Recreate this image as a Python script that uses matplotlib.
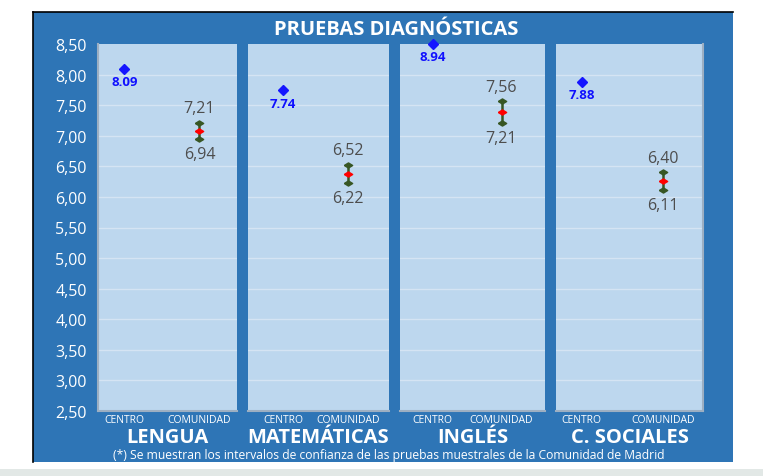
import matplotlib
matplotlib.use("Agg")
import matplotlib.pyplot as plt
from matplotlib.patches import Rectangle
import numpy as np

plt.rcParams['font.family'] = ['Open Sans', 'DejaVu Sans']

# ---- data ----
subjects = ["LENGUA", "MATEMÁTICAS", "INGLÉS", "C. SOCIALES"]
categories = ["CENTRO", "COMUNIDAD"]
centro = [8.09, 7.74, 8.94, 7.88]
centro_labels = ["8.09", "7.74", "8.94", "7.88"]
com_low = [6.94, 6.22, 7.21, 6.11]
com_high = [7.21, 6.52, 7.56, 6.40]
yticks = [2.5, 3.0, 3.5, 4.0, 4.5, 5.0, 5.5, 6.0, 6.5, 7.0, 7.5, 8.0, 8.5]
ytick_labels = ["2,50", "3,00", "3,50", "4,00", "4,50", "5,00", "5,50",
                "6,00", "6,50", "7,00", "7,50", "8,00", "8,50"]
title = "PRUEBAS DIAGNÓSTICAS"
footnote = "(*) Se muestran los intervalos de confianza de las pruebas muestrales de la Comunidad de Madrid"

# ---- layout (pixels) ----
W, H = 763, 477
FRAME_BLUE = "#2E75B6"
PANEL_BG = "#BDD7EE"
GRID = "#D5E4F3"
panels_px = [(98, 237), (248, 389), (400, 545), (556, 703)]
panel_top, panel_bot = 45, 412
# fraction of panel width where CENTRO / COMUNIDAD sit
cat_pos = [(0.19, 0.73), (0.25, 0.71), (0.225, 0.70), (0.175, 0.73)]

fig = plt.figure(figsize=(W / 100, H / 100), dpi=100)
fig.patch.set_facecolor("white")

def fx(x):
    return x / W

def fy(y):
    return 1 - y / H

# background axes for frame drawing
bg = fig.add_axes([0, 0, 1, 1], zorder=-10)
bg.set_xlim(0, W)
bg.set_ylim(H, 0)
bg.axis('off')
bg.add_patch(Rectangle((33, 13), 700, 450, facecolor=FRAME_BLUE, edgecolor="none"))
bg.plot([33, 733], [13, 13], color="black", lw=1.2)
bg.plot([33, 33], [13, 463], color="black", lw=1.2)
bg.add_patch(Rectangle((0, 470), W, 7, facecolor="#E2E8E6", edgecolor="none"))

diamond_wide = [(-1, 0), (0, 0.62), (1, 0), (0, -0.62), (-1, 0)]

ymin, ymax = 2.5, 8.5
for i, (x0, x1) in enumerate(panels_px):
    ax = fig.add_axes([fx(x0), fy(panel_bot), fx(x1) - fx(x0), fy(panel_top) - fy(panel_bot)],
                      zorder=2)
    ax.set_facecolor(PANEL_BG)
    a, b = cat_pos[i]
    lo = -a / (b - a)
    hi = (1 - a) / (b - a)
    ax.set_xlim(lo, hi)
    ax.set_ylim(ymin, ymax)
    for s in ax.spines.values():
        s.set_visible(False)
    ax.spines['bottom'].set_visible(True)
    ax.spines['bottom'].set_color("#9DAFC2")
    ax.spines['bottom'].set_linewidth(1.5)
    if i == 0:
        ax.spines['left'].set_visible(True)
        ax.spines['left'].set_color("#9DAFC2")
        ax.spines['left'].set_linewidth(1.5)
    if i == 3:
        ax.spines['right'].set_visible(True)
        ax.spines['right'].set_color("#9DAFC2")
        ax.spines['right'].set_linewidth(1.5)
    for yv in yticks[1:-1]:
        ax.axhline(yv, color=GRID, lw=1.0, zorder=1)

    ax.set_xticks([0, 1])
    ax.set_xticklabels(categories, fontsize=7.5, color="white")
    ax.tick_params(axis='x', length=0, pad=2)
    if i == 0:
        ax.set_yticks(yticks)
        ax.set_yticklabels(ytick_labels, fontsize=11.5, color="white")
        ax.tick_params(axis='y', length=0, pad=8)
    else:
        ax.set_yticks([])

    # centro point
    cy = min(centro[i], ymax)
    ax.plot([0], [cy], marker='D', ms=4.6, color="#1515FF", ls='none', zorder=5, clip_on=False)
    ax.annotate(centro_labels[i], (0, cy), xytext=(0, -4.5), textcoords='offset points',
                ha='center', va='top', fontsize=9.5, fontweight='bold', color="#1010FF", zorder=6)

    # comunidad interval
    lo_v, hi_v = com_low[i], com_high[i]
    mid = (lo_v + hi_v) / 2
    ax.plot([1, 1], [lo_v, hi_v], color="#375623", lw=1.8, zorder=4)
    ax.plot([1, 1], [lo_v, hi_v], marker=diamond_wide, ms=6, color="#375623",
            ls='none', zorder=5)
    ax.plot([1], [mid], marker=diamond_wide, ms=6, color="#FF0000", ls='none', zorder=6)
    ax.annotate(f"{hi_v:.2f}".replace('.', ','), (1, hi_v), xytext=(0, 5),
                textcoords='offset points', ha='center', va='bottom', fontsize=11.5,
                color="#4D4D4D", zorder=6)
    ax.annotate(f"{lo_v:.2f}".replace('.', ','), (1, lo_v), xytext=(0, -5),
                textcoords='offset points', ha='center', va='top', fontsize=11.5,
                color="#4D4D4D", zorder=6)

    fig.text(fx((x0 + x1) / 2), fy(438), subjects[i], ha='center', va='center',
             fontsize=14.5, fontweight='bold', color="white")

fig.text(fx(396), fy(30), title, ha='center', va='center', fontsize=14.5,
         fontweight='bold', color="white")
fig.text(fx(388.5), fy(455.5), footnote, ha='center', va='center', fontsize=8.7, color="white")

fig.savefig("out.png", dpi=100, facecolor=fig.get_facecolor())
